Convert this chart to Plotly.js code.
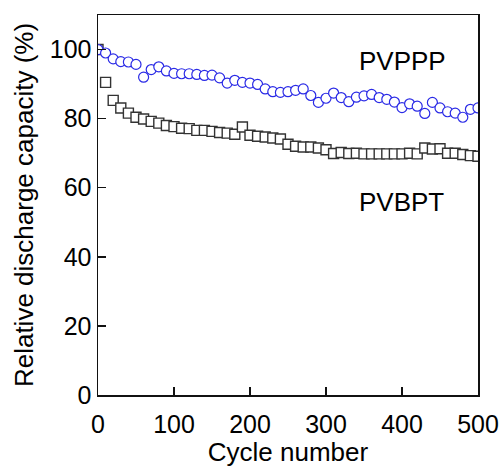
<!DOCTYPE html>
<html>
<head>
<meta charset="utf-8">
<script src="https://cdn.plot.ly/plotly-3.0.1.min.js"></script>
<style>html,body{margin:0;padding:0;background:#fff;}#chart{width:503px;height:470px;}</style>
</head>
<body>
<div id="chart"></div>
<script>
var cycles = [0,10,20,30,40,50,60,70,80,90,100,110,120,130,140,150,160,170,180,190,200,210,220,230,240,250,260,270,280,290,300,310,320,330,340,350,360,370,380,390,400,410,420,430,440,450,460,470,480,490,500];
var pvppp = [100,99,97.3,96.5,96.4,95.7,92,94.2,95,93.8,93.1,93,93,92.8,92.5,92.6,91.8,90.3,91.1,90.5,90.3,89.9,88.6,87.8,87.6,87.8,88.2,88.6,86.7,84.7,85.9,87.4,86.1,84.9,86.2,86.6,87,86.1,85.6,84.8,83.2,84.3,83.6,81.5,84.7,83.1,82,81.6,80.4,82.7,83.1];
var pvbpt = [100,90.5,85.3,83.1,81.6,80.4,79.9,79.2,78.7,78,77.7,77.2,77.1,76.6,76.6,76.3,76,75.8,75.5,77.6,75.2,74.9,74.7,74.4,74.1,72.6,72,71.8,71.8,71.5,71,69.9,70.2,69.9,70,69.8,69.8,69.8,69.8,69.8,69.8,70,69.8,71.5,71.2,71.3,70,70,69.6,69.3,69.1];
var xTicks = [0,100,200,300,400,500];
var yTicks = [0,20,40,60,80,100];
var labels = [{text:'PVPPP', x:401, y:96.6}, {text:'PVBPT', x:399, y:56}];

var fontFam = 'Liberation Sans, Arial, Helvetica, sans-serif';
var traces = [
  {x: cycles, y: pvbpt, type: 'scatter', mode: 'markers', name: 'PVBPT',
   marker: {symbol: 'square', size: 10, color: '#ffffff', line: {color: '#333333', width: 1.4}}},
  {x: cycles, y: pvppp, type: 'scatter', mode: 'markers', name: 'PVPPP',
   marker: {symbol: 'circle', size: 10, color: '#ffffff', line: {color: '#2a2ae6', width: 1.2}}}
];
var layout = {
  width: 503, height: 470,
  margin: {l: 98, r: 25, t: 15, b: 75},
  showlegend: false,
  paper_bgcolor: '#fff', plot_bgcolor: '#fff',
  font: {family: fontFam, size: 26, color: '#000'},
  xaxis: {range: [0, 500], tickvals: xTicks, ticktext: xTicks.map(String),
    ticks: 'inside', ticklen: 8, tickwidth: 1.5, tickcolor: '#111',
    showline: true, linecolor: '#111', linewidth: 1.5, mirror: true,
    showgrid: false, zeroline: false, ticklabelstandoff: 6,
    tickfont: {size: 25, family: fontFam},
    title: {text: 'Cycle number', font: {size: 26, family: fontFam}, standoff: 2}},
  yaxis: {range: [0, 110], tickvals: yTicks, ticktext: yTicks.map(String),
    ticks: 'inside', ticklen: 8, tickwidth: 1.5, tickcolor: '#111',
    showline: true, linecolor: '#111', linewidth: 1.5, mirror: true,
    showgrid: false, zeroline: false,
    tickfont: {size: 25, family: fontFam},
    title: {text: 'Relative discharge capacity (%)', font: {size: 26, family: fontFam}, standoff: 8}},
  annotations: labels.map(function(l){ return {text: l.text, x: l.x, y: l.y, xref: 'x', yref: 'y', showarrow: false, font: {size: 26, family: fontFam, color: '#000'}}; })
};
Plotly.newPlot('chart', traces, layout, {displayModeBar: false, staticPlot: true});
</script>
</body>
</html>
